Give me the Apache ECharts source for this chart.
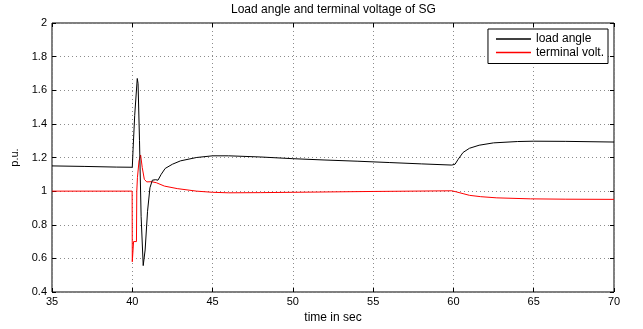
<!DOCTYPE html>
<html>
<head>
<meta charset="utf-8">
<script src="https://cdn.jsdelivr.net/npm/echarts@6/dist/echarts.min.js"></script>
<style>
  html, body { margin: 0; padding: 0; background: #fff; }
  #chart { width: 643px; height: 329px; }
</style>
</head>
<body>
<div id="chart"></div>
<script>
// load angle (black)
const timeLoad = [35, 37, 39, 40.0, 40.05, 40.15, 40.31, 40.36, 40.45, 40.55, 40.68, 40.8, 40.95, 41.1, 41.25, 41.45, 41.6, 41.8, 42.05, 42.5, 43, 44, 45, 46, 48, 50, 52, 54, 56, 58, 59.9, 60.1, 60.3, 60.6, 61, 61.6, 62.5, 64, 65, 67, 70];
const loadAngle = [1.150, 1.147, 1.143, 1.142, 1.25, 1.45, 1.67, 1.64, 1.30, 0.85, 0.557, 0.65, 0.88, 1.02, 1.065, 1.068, 1.065, 1.10, 1.135, 1.16, 1.18, 1.20, 1.21, 1.21, 1.203, 1.193, 1.185, 1.178, 1.17, 1.162, 1.155, 1.16, 1.19, 1.23, 1.255, 1.273, 1.287, 1.295, 1.297, 1.296, 1.292];

// terminal voltage (red)
const timeVolt = [35, 39.99, 40.0, 40.04, 40.08, 40.26, 40.28, 40.32, 40.42, 40.52, 40.62, 40.75, 40.9, 41.2, 41.5, 42, 42.8, 44, 45, 46, 48, 50, 55, 59.9, 60.2, 60.6, 61, 61.7, 62.7, 64.8, 67, 70];
const termVolt = [1.0, 1.0, 0.58, 0.57, 0.70, 0.70, 1.0, 1.08, 1.18, 1.215, 1.14, 1.07, 1.055, 1.056, 1.05, 1.03, 1.015, 1.0, 0.993, 0.99, 0.991, 0.993, 0.998, 1.002, 0.995, 0.985, 0.975, 0.967, 0.96, 0.954, 0.952, 0.951];

const seriesNames = ["load angle", "terminal volt."];
const xTicks = [35, 40, 45, 50, 55, 60, 65, 70];
const yTicks = [0.4, 0.6, 0.8, 1, 1.2, 1.4, 1.6, 1.8, 2];

const font = "'Liberation Sans', Arial, sans-serif";
const pair = (ts, vs) => ts.map((t, i) => [t, vs[i]]);

const chart = echarts.init(document.getElementById("chart"), null, { renderer: "canvas" });

const tickAxis = {
  axisLine: { show: false },
  axisTick: { show: true, inside: true, length: 4, lineStyle: { color: "#000" } },
  splitLine: { show: false },
  axisLabel: { show: false },
};

const gridLine = { show: true, lineStyle: { color: "#8c8c8c", type: [1, 3], width: 1 } };

chart.setOption({
  animation: false,
  backgroundColor: "#fff",
  title: {
    text: "Load angle and terminal voltage of SG",
    left: 231,
    top: 4,
    padding: 0,
    textStyle: { fontFamily: font, fontSize: 12, fontWeight: "normal", color: "#000" },
  },
  grid: {
    left: 52, right: 29, top: 23, bottom: 35,
    show: true, borderColor: "#000", borderWidth: 1, backgroundColor: "transparent",
  },
  legend: {
    right: 35, top: 29,
    orient: "vertical",
    backgroundColor: "#fff",
    borderColor: "#000", borderWidth: 1, borderRadius: 0,
    padding: [4, 4, 5, 8],
    itemGap: 1.5, itemWidth: 35, itemHeight: 1.5,
    icon: "rect",
    textStyle: { fontFamily: font, fontSize: 12, color: "#000" },
    data: seriesNames,
  },
  xAxis: [
    {
      type: "value", min: 35, max: 70, interval: 5,
      name: "time in sec", nameLocation: "middle", nameGap: 20,
      nameTextStyle: { fontFamily: font, fontSize: 12, color: "#000" },
      axisLine: { show: false },
      axisTick: { show: true, inside: true, length: 4, lineStyle: { color: "#000" } },
      axisLabel: {
        fontFamily: font, fontSize: 11, color: "#000", margin: 4,
        formatter: (v) => (xTicks.includes(v) ? String(v) : ""),
      },
      splitLine: gridLine,
    },
    { type: "value", position: "top", min: 35, max: 70, interval: 5, ...tickAxis },
  ],
  yAxis: [
    {
      type: "value", min: 0.4, max: 2, interval: 0.2,
      name: "p.u.", nameLocation: "middle", nameGap: 26,
      nameTextStyle: { fontFamily: font, fontSize: 11, color: "#000" },
      axisLine: { show: false },
      axisTick: { show: true, inside: true, length: 4, lineStyle: { color: "#000" } },
      axisLabel: {
        fontFamily: font, fontSize: 11, color: "#000", margin: 5,
        formatter: (v) => {
          const t = yTicks.find((y) => Math.abs(y - v) < 1e-6);
          return t === undefined ? "" : String(t);
        },
      },
      splitLine: gridLine,
    },
    { type: "value", position: "right", min: 0.4, max: 2, interval: 0.2, ...tickAxis },
  ],
  series: [
    {
      name: seriesNames[0], type: "line", showSymbol: false, symbol: "none",
      data: pair(timeLoad, loadAngle),
      lineStyle: { color: "#000", width: 1 }, itemStyle: { color: "#000" },
      z: 3,
    },
    {
      name: seriesNames[1], type: "line", showSymbol: false, symbol: "none",
      data: pair(timeVolt, termVolt),
      lineStyle: { color: "#ff0000", width: 1 }, itemStyle: { color: "#ff0000" },
      z: 2,
    },
  ],
});
</script>
</body>
</html>
